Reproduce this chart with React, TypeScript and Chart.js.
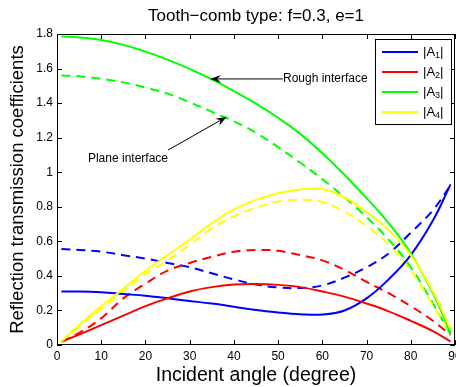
import { useEffect, useRef } from "react";
import { Chart, registerables } from "chart.js";

Chart.register(...registerables);

const FONT = "'Liberation Sans', Arial, Helvetica, sans-serif";

const titleText = "Tooth\u2212comb type: f=0.3, e=1";
const xTitle = "Incident angle (degree)";
const yTitle = "Reflection transmission coefficients";

const angles = [1, 5, 10, 15, 20, 25, 30, 35, 40, 45, 50, 55, 60, 65, 70, 75, 80, 85, 89];

const a1Rough = [0.31, 0.31, 0.305, 0.295, 0.285, 0.27, 0.255, 0.24, 0.222, 0.202, 0.188, 0.178, 0.176, 0.2, 0.27, 0.38, 0.52, 0.72, 0.93];
const a2Rough = [0.02, 0.06, 0.115, 0.17, 0.225, 0.27, 0.31, 0.335, 0.35, 0.353, 0.348, 0.335, 0.31, 0.28, 0.24, 0.195, 0.14, 0.08, 0.02];
const a3Rough = [1.785, 1.78, 1.765, 1.737, 1.698, 1.652, 1.598, 1.537, 1.47, 1.397, 1.315, 1.222, 1.11, 0.985, 0.85, 0.705, 0.53, 0.3, 0.07];
const a4Rough = [0.02, 0.115, 0.225, 0.325, 0.43, 0.52, 0.61, 0.705, 0.785, 0.84, 0.878, 0.9, 0.903, 0.855, 0.77, 0.665, 0.52, 0.31, 0.09];

const a1Plane = [0.555, 0.55, 0.54, 0.52, 0.5, 0.475, 0.45, 0.415, 0.38, 0.35, 0.333, 0.33, 0.345, 0.39, 0.45, 0.53, 0.65, 0.78, 0.925];
const a2Plane = [0.02, 0.07, 0.155, 0.27, 0.355, 0.43, 0.475, 0.51, 0.54, 0.55, 0.545, 0.52, 0.49, 0.435, 0.365, 0.3, 0.225, 0.14, 0.058];
const a3Plane = [1.56, 1.555, 1.54, 1.52, 1.49, 1.455, 1.405, 1.35, 1.295, 1.228, 1.145, 1.055, 0.96, 0.855, 0.74, 0.61, 0.45, 0.24, 0.06];
const a4Plane = [0.02, 0.105, 0.21, 0.31, 0.41, 0.49, 0.58, 0.675, 0.745, 0.795, 0.83, 0.84, 0.828, 0.772, 0.69, 0.58, 0.43, 0.23, 0.07];

const legendLabels = ["1", "2", "3", "4"];
const seriesColors = ["#0000ff", "#ff0000", "#00ff00", "#ffff00"];

const xTicks = [0, 10, 20, 30, 40, 50, 60, 70, 80, 90];
const yTicks = [0, 0.2, 0.4, 0.6, 0.8, 1, 1.2, 1.4, 1.6, 1.8];

// annotations in data coordinates
const roughNote = { text: "Rough interface", tail: [51.1, 1.54], tip: [34.6, 1.54] };
const planeNote = { text: "Plane interface", tail: [25.1, 1.128], tip: [38.4, 1.321], textY: 1.08 };

function toPts(vals: number[]) {
  return angles.map((a, i) => ({ x: a, y: vals[i] }));
}

function drawArrow(ctx: CanvasRenderingContext2D, x0: number, y0: number, x1: number, y1: number) {
  const ang = Math.atan2(y1 - y0, x1 - x0);
  const len = 11;
  const hw = 4;
  ctx.beginPath();
  ctx.moveTo(x0, y0);
  ctx.lineTo(x1 - Math.cos(ang) * 6, y1 - Math.sin(ang) * 6);
  ctx.stroke();
  const bx = x1 - Math.cos(ang) * len;
  const by = y1 - Math.sin(ang) * len;
  const nx = x1 - Math.cos(ang) * len * 0.65;
  const ny = y1 - Math.sin(ang) * len * 0.65;
  const px = -Math.sin(ang) * hw;
  const py = Math.cos(ang) * hw;
  ctx.beginPath();
  ctx.moveTo(x1, y1);
  ctx.lineTo(bx + px, by + py);
  ctx.lineTo(nx, ny);
  ctx.lineTo(bx - px, by - py);
  ctx.closePath();
  ctx.fill();
}

const decorPlugin = {
  id: "decor",
  afterDatasetsDraw(chart: any) {
    const { ctx, chartArea: a, scales } = chart;
    const x = scales.x;
    const y = scales.y;
    ctx.save();
    // frame
    ctx.strokeStyle = "#000";
    ctx.lineWidth = 1;
    ctx.strokeRect(a.left + 0.5, a.top + 0.5, a.right - a.left - 1, a.bottom - a.top - 1);
    // inward ticks
    ctx.beginPath();
    for (const v of xTicks) {
      const px = Math.round(x.getPixelForValue(v)) + 0.5;
      ctx.moveTo(px, a.bottom);
      ctx.lineTo(px, a.bottom - 5);
      ctx.moveTo(px, a.top);
      ctx.lineTo(px, a.top + 5);
    }
    for (const v of yTicks) {
      const py = Math.round(y.getPixelForValue(v)) + 0.5;
      ctx.moveTo(a.left, py);
      ctx.lineTo(a.left + 5, py);
      ctx.moveTo(a.right, py);
      ctx.lineTo(a.right - 5, py);
    }
    ctx.stroke();

    // annotations
    ctx.fillStyle = "#000";
    ctx.strokeStyle = "#000";
    ctx.font = `12px ${FONT}`;
    ctx.textBaseline = "middle";
    {
      const tx = x.getPixelForValue(roughNote.tail[0]);
      const ty = y.getPixelForValue(roughNote.tail[1]);
      const hx = x.getPixelForValue(roughNote.tip[0]);
      const hy = y.getPixelForValue(roughNote.tip[1]);
      drawArrow(ctx, tx, ty, hx, hy);
      ctx.textAlign = "left";
      ctx.fillText(roughNote.text, tx, ty);
    }
    {
      const tx = x.getPixelForValue(planeNote.tail[0]);
      const ty = y.getPixelForValue(planeNote.tail[1]);
      const hx = x.getPixelForValue(planeNote.tip[0]);
      const hy = y.getPixelForValue(planeNote.tip[1]);
      drawArrow(ctx, tx, ty, hx, hy);
      ctx.textAlign = "right";
      ctx.fillText(planeNote.text, tx, y.getPixelForValue(planeNote.textY));
    }

    // title
    ctx.font = `17px ${FONT}`;
    ctx.textAlign = "center";
    ctx.fillText(titleText, (a.left + a.right) / 2, 16);

    // legend
    const bw = 77;
    const bh = 86;
    const bx = a.right - 3 - bw;
    const by = a.top + 5;
    ctx.fillStyle = "#fff";
    ctx.fillRect(bx, by, bw, bh);
    ctx.strokeStyle = "#000";
    ctx.strokeRect(bx + 0.5, by + 0.5, bw - 1, bh - 1);
    legendLabels.forEach((lab, i) => {
      const cy = by + 13 + i * 20;
      ctx.strokeStyle = seriesColors[i];
      ctx.lineWidth = 2;
      ctx.beginPath();
      ctx.moveTo(bx + 7, cy);
      ctx.lineTo(bx + 43, cy);
      ctx.stroke();
      ctx.fillStyle = "#000";
      ctx.textAlign = "left";
      ctx.font = `13px ${FONT}`;
      let cx = bx + 48;
      ctx.fillText("|A", cx, cy);
      cx += ctx.measureText("|A").width;
      ctx.font = `9px ${FONT}`;
      ctx.fillText(lab, cx, cy + 4);
      cx += ctx.measureText(lab).width;
      ctx.font = `13px ${FONT}`;
      ctx.fillText("|", cx, cy);
    });
    ctx.restore();
  },
};

export default function App() {
  const ref = useRef<HTMLCanvasElement | null>(null);
  useEffect(() => {
    if (!ref.current) return;
    const rough = [a1Rough, a2Rough, a3Rough, a4Rough];
    const plane = [a1Plane, a2Plane, a3Plane, a4Plane];
    const ds: any[] = [];
    const order = [
      ...plane.map((v, i) => ({ v, i, dash: true })),
      ...rough.map((v, i) => ({ v, i, dash: false })),
    ];
    order.forEach((o, k) => {
      ds.push({
        label: `|A${legendLabels[o.i]}|${o.dash ? " plane" : ""}`,
        data: toPts(o.v),
        borderColor: seriesColors[o.i],
        backgroundColor: seriesColors[o.i],
        borderWidth: 2,
        borderDash: o.dash ? [9, 6] : [],
        pointRadius: 0,
        fill: false,
        tension: 0.4,
        order: order.length - k,
      });
    });
    const chart = new Chart(ref.current, {
      type: "line",
      data: { datasets: ds },
      options: {
        responsive: false,
        animation: false,
        layout: { padding: { top: 34, right: 1, left: 0, bottom: 0 } },
        plugins: { legend: { display: false }, title: { display: false }, tooltip: { enabled: false } },
        scales: {
          x: {
            type: "linear",
            min: 0,
            max: 90,
            afterBuildTicks: (s: any) => {
              s.ticks = xTicks.map((v) => ({ value: v }));
            },
            afterFit: (s: any) => {
              s.height = 42;
              s.paddingRight = 0;
              s.paddingLeft = 0;
            },
            grid: { display: false, drawTicks: false },
            border: { display: false },
            ticks: {
              padding: 4,
              maxRotation: 0,
              autoSkip: false,
              color: "#000",
              font: { family: FONT, size: 12 },
              callback: (v: any) => String(v),
            },
            title: {
              display: true,
              text: xTitle,
              color: "#000",
              font: { family: FONT, size: 19.5 },
              padding: { top: 2, bottom: 0 },
            },
          },
          y: {
            type: "linear",
            min: 0,
            max: 1.8,
            afterBuildTicks: (s: any) => {
              s.ticks = yTicks.map((v) => ({ value: v }));
            },
            afterFit: (s: any) => {
              s.width = 57;
              s.paddingTop = 0;
              s.paddingBottom = 0;
            },
            grid: { display: false, drawTicks: false },
            border: { display: false },
            ticks: {
              padding: 4,
              autoSkip: false,
              color: "#000",
              font: { family: FONT, size: 12 },
              callback: (v: any) => String(Math.round(v * 10) / 10),
            },
            title: {
              display: true,
              text: yTitle,
              color: "#000",
              font: { family: FONT, size: 18.5 },
              padding: { top: 7, bottom: 0 },
            },
          },
        },
      },
      plugins: [decorPlugin],
    });
    return () => chart.destroy();
  }, []);
  return (
    <div style={{ position: "absolute", left: 0, top: 0, width: 456, height: 387, background: "#fff" }}>
      <canvas ref={ref} width={456} height={387} style={{ display: "block" }} />
    </div>
  );
}
